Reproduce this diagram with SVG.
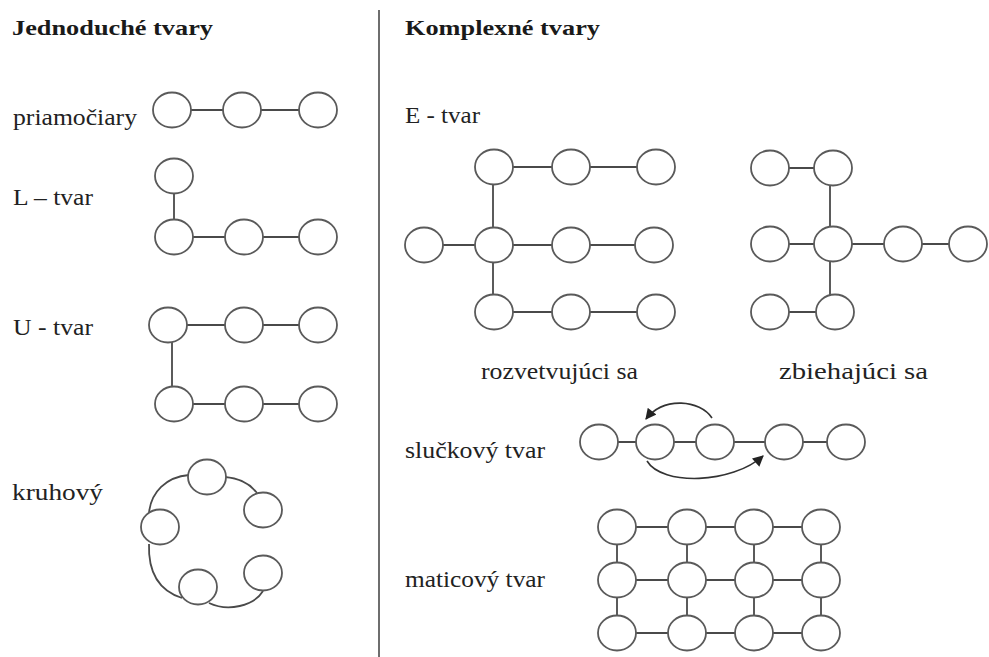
<svg xmlns="http://www.w3.org/2000/svg" width="989" height="657" viewBox="0 0 989 657">
  <style>
    .n { fill: #fff; stroke: #5a5a5a; stroke-width: 1.8; }
    .c { fill: none; stroke: #4a4a4a; stroke-width: 1.8; }
    .a { fill: none; stroke: #333; stroke-width: 1.6; }
    text { font-family: 'Liberation Serif', 'Times New Roman', serif; }
  </style>
  <defs>
    <marker id="arr" viewBox="0 0 10 10" refX="9" refY="5" markerWidth="12" markerHeight="11" orient="auto" markerUnits="userSpaceOnUse">
      <path d="M0,0 L10,5 L0,10 z" fill="#222"/>
    </marker>
    <ellipse id="nd" cx="0" cy="0" rx="19" ry="17.5" class="n"/>
  </defs>
  <rect width="989" height="657" fill="#fff"/>

  <!-- separator between the two columns -->
  <line x1="379" y1="10" x2="379" y2="657" stroke="#6e6e6e" stroke-width="2"/>

  <!-- headings and labels -->
  <g id="labels" font-family="'Liberation Serif', 'Times New Roman', serif" font-size="23" fill="#222">
    <g font-weight="bold" fill="#1a1a1a" font-size="22">
      <text x="12" y="35" textLength="201" lengthAdjust="spacingAndGlyphs">Jednoduché tvary</text>
      <text x="405" y="35" textLength="195" lengthAdjust="spacingAndGlyphs">Komplexné tvary</text>
    </g>
    <text x="13" y="125" textLength="124" lengthAdjust="spacingAndGlyphs">priamočiary</text>
    <text x="13" y="205" textLength="80" lengthAdjust="spacingAndGlyphs">L – tvar</text>
    <text x="13" y="335" textLength="80" lengthAdjust="spacingAndGlyphs">U - tvar</text>
    <text x="12" y="500" textLength="91" lengthAdjust="spacingAndGlyphs">kruhový</text>
    <text x="405" y="123" textLength="75" lengthAdjust="spacingAndGlyphs">E - tvar</text>
    <text x="481" y="379" textLength="157" lengthAdjust="spacingAndGlyphs">rozvetvujúci sa</text>
    <text x="779" y="379" textLength="149" lengthAdjust="spacingAndGlyphs">zbiehajúci sa</text>
    <text x="405" y="458" textLength="140" lengthAdjust="spacingAndGlyphs">slučkový tvar</text>
    <text x="405" y="587" textLength="140" lengthAdjust="spacingAndGlyphs">maticový tvar</text>
  </g>

  <!-- connectors -->
  <g id="connectors">
    <!-- straight line -->
    <path class="c" d="M172,110 H318"/>
    <!-- L shape -->
    <path class="c" d="M174,176 V237 H318"/>
    <!-- U shape -->
    <path class="c" d="M168,325 H318 M172,325 V404 M174,404 H318"/>
    <!-- ring -->
    <path class="c" d="M189,475 C166,477 151,492 149,513"/>
    <path class="c" d="M225,477 C240,478 250,484 257,493"/>
    <path class="c" d="M149,544 C148,573 160,591 182,598"/>
    <path class="c" d="M209,603 C228,612 254,606 263,591"/>
    <!-- E shape, branching -->
    <path class="c" d="M494,167 H656 M493,167 V312 M424,245 H654 M494,312 H656"/>
    <!-- E shape, converging -->
    <path class="c" d="M770,168 H832 M830,168 V312 M770,244 H968 M770,312 H835"/>
    <!-- loop -->
    <path class="c" d="M599,442 H846"/>
    <path class="a" d="M712,418 C700,400 664,396 646,419" marker-end="url(#arr)"/>
    <path class="a" d="M647,461 C662,486 732,484 763,456" marker-end="url(#arr)"/>
    <!-- matrix -->
    <path class="c" d="M617,527 H821 M617,580 H821 M617,633 H821 M617,527 V633 M687,527 V633 M754,527 V633 M821,527 V633"/>
  </g>

  <!-- nodes -->
  <g id="priamociary">
    <g id="p1"><use href="#nd" x="172" y="110"/></g>
    <g id="p2"><use href="#nd" x="242" y="110"/></g>
    <g id="p3"><use href="#nd" x="318" y="110"/></g>
  </g>
  <g id="l-tvar">
    <g id="l0"><use href="#nd" x="174" y="176"/></g>
    <g id="l1"><use href="#nd" x="174" y="237"/></g>
    <g id="l2"><use href="#nd" x="244" y="237"/></g>
    <g id="l3"><use href="#nd" x="318" y="237"/></g>
  </g>
  <g id="u-tvar">
    <g id="u1"><use href="#nd" x="168" y="325"/></g>
    <g id="u2"><use href="#nd" x="244" y="325"/></g>
    <g id="u3"><use href="#nd" x="318" y="325"/></g>
    <g id="u4"><use href="#nd" x="174" y="404"/></g>
    <g id="u5"><use href="#nd" x="244" y="404"/></g>
    <g id="u6"><use href="#nd" x="318" y="404"/></g>
  </g>
  <g id="kruhovy">
    <g id="k1"><use href="#nd" x="207" y="477"/></g>
    <g id="k2"><use href="#nd" x="263" y="510"/></g>
    <g id="k3"><use href="#nd" x="160" y="527"/></g>
    <g id="k4"><use href="#nd" x="198" y="587"/></g>
    <g id="k5"><use href="#nd" x="263" y="573"/></g>
  </g>
  <g id="rozvetvujuci">
    <g id="r1"><use href="#nd" x="494" y="167"/></g>
    <g id="r2"><use href="#nd" x="571" y="167"/></g>
    <g id="r3"><use href="#nd" x="656" y="167"/></g>
    <g id="r4"><use href="#nd" x="424" y="245"/></g>
    <g id="r5"><use href="#nd" x="494" y="245"/></g>
    <g id="r6"><use href="#nd" x="571" y="245"/></g>
    <g id="r7"><use href="#nd" x="654" y="245"/></g>
    <g id="r8"><use href="#nd" x="494" y="312"/></g>
    <g id="r9"><use href="#nd" x="571" y="312"/></g>
    <g id="r10"><use href="#nd" x="656" y="312"/></g>
  </g>
  <g id="zbiehajuci">
    <g id="z1"><use href="#nd" x="770" y="168"/></g>
    <g id="z2"><use href="#nd" x="833" y="168"/></g>
    <g id="z3"><use href="#nd" x="770" y="244"/></g>
    <g id="z4"><use href="#nd" x="833" y="244"/></g>
    <g id="z5"><use href="#nd" x="903" y="244"/></g>
    <g id="z6"><use href="#nd" x="968" y="244"/></g>
    <g id="z7"><use href="#nd" x="770" y="312"/></g>
    <g id="z8"><use href="#nd" x="835" y="312"/></g>
  </g>
  <g id="sluckovy">
    <g id="s1"><use href="#nd" x="599" y="442"/></g>
    <g id="s2"><use href="#nd" x="655" y="442"/></g>
    <g id="s3"><use href="#nd" x="715" y="442"/></g>
    <g id="s4"><use href="#nd" x="784" y="442"/></g>
    <g id="s5"><use href="#nd" x="846" y="442"/></g>
  </g>
  <g id="maticovy">
    <g id="m11"><use href="#nd" x="617" y="527"/></g>
    <g id="m12"><use href="#nd" x="687" y="527"/></g>
    <g id="m13"><use href="#nd" x="754" y="527"/></g>
    <g id="m14"><use href="#nd" x="821" y="527"/></g>
    <g id="m21"><use href="#nd" x="617" y="580"/></g>
    <g id="m22"><use href="#nd" x="687" y="580"/></g>
    <g id="m23"><use href="#nd" x="754" y="580"/></g>
    <g id="m24"><use href="#nd" x="821" y="580"/></g>
    <g id="m31"><use href="#nd" x="617" y="633"/></g>
    <g id="m32"><use href="#nd" x="687" y="633"/></g>
    <g id="m33"><use href="#nd" x="754" y="633"/></g>
    <g id="m34"><use href="#nd" x="821" y="633"/></g>
  </g>
</svg>
